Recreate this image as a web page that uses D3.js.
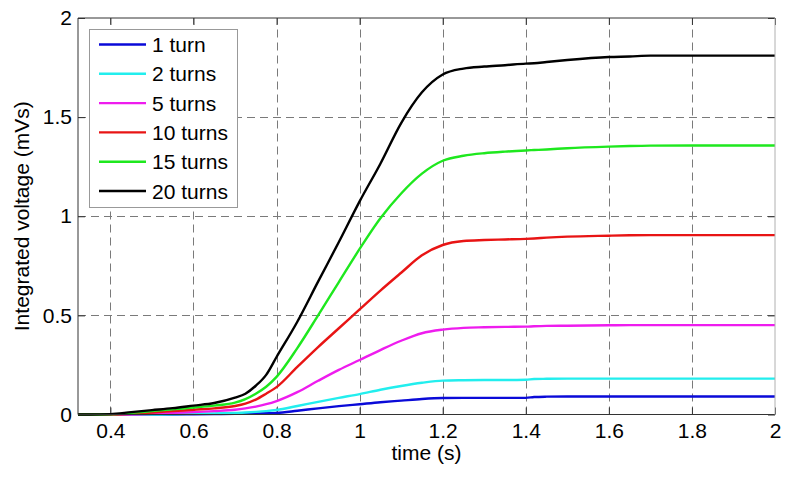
<!DOCTYPE html>
<html>

<script src="https://cdn.jsdelivr.net/npm/d3@7/dist/d3.min.js"></script>

<style>

  body, html {
    padding: 0;
    margin: 0;
    background: #fff;
  }

  svg {
    width: 792px;
    height: 478px;
    font-family: "Liberation Sans", Arial, sans-serif;
  }

  .axis path { display: none; }
  .axis line { stroke: #333; }
  .axis text { font-size: 21px; fill: #000; }

</style>

<body>
  <svg></svg>

	<script>

    // sample times (s)
    var time = [0.322, 0.35, 0.4, 0.45, 0.5, 0.55, 0.6, 0.65, 0.7, 0.725, 0.75, 0.775, 0.8,
      0.85, 0.9, 0.95, 1.0, 1.05, 1.1, 1.15, 1.2, 1.25, 1.3, 1.35, 1.4, 1.42, 1.45, 1.5,
      1.6, 1.65, 1.7, 1.8, 1.9, 2.0];

    // integrated voltage (mVs), one array per coil
    var turns1 = [0, 0, 0, 0, 0, 0, 0.001, 0.002, 0.003, 0.004, 0.005, 0.006, 0.008,
      0.019, 0.031, 0.042, 0.052, 0.062, 0.07, 0.078, 0.083, 0.084, 0.084, 0.084, 0.084, 0.088, 0.09, 0.091,
      0.091, 0.091, 0.091, 0.091, 0.091, 0.091];
    var turns2 = [0, 0, 0, 0, 0, 0.001, 0.003, 0.005, 0.008, 0.01, 0.013, 0.017, 0.023,
      0.043, 0.064, 0.084, 0.103, 0.125, 0.144, 0.16, 0.171, 0.173, 0.174, 0.174, 0.175, 0.179, 0.18, 0.181,
      0.181, 0.181, 0.181, 0.181, 0.181, 0.181];
    var turns5 = [0, 0, 0, 0, 0.003, 0.008, 0.012, 0.017, 0.024, 0.031, 0.04, 0.052, 0.068,
      0.113, 0.17, 0.225, 0.275, 0.325, 0.372, 0.41, 0.428, 0.437, 0.44, 0.442, 0.443, 0.445, 0.447, 0.448,
      0.45, 0.451, 0.451, 0.451, 0.451, 0.451];
    var turns10 = [0, 0, 0, 0.004, 0.01, 0.017, 0.024, 0.031, 0.043, 0.055, 0.075, 0.105, 0.138,
      0.24, 0.34, 0.435, 0.53, 0.625, 0.715, 0.803, 0.855, 0.875, 0.88, 0.883, 0.886, 0.888, 0.892, 0.897,
      0.902, 0.904, 0.905, 0.905, 0.905, 0.905];
    var turns15 = [0, 0, 0.001, 0.008, 0.017, 0.026, 0.035, 0.045, 0.06, 0.078, 0.105, 0.14, 0.19,
      0.335, 0.5, 0.668, 0.835, 0.99, 1.115, 1.215, 1.28, 1.305, 1.318, 1.326, 1.332, 1.334, 1.337, 1.343,
      1.351, 1.354, 1.356, 1.357, 1.357, 1.357];
    var turns20 = [0, 0, 0.002, 0.012, 0.022, 0.032, 0.045, 0.058, 0.085, 0.105, 0.145, 0.2, 0.29,
      0.468, 0.67, 0.87, 1.075, 1.265, 1.47, 1.625, 1.715, 1.745, 1.755, 1.762, 1.77, 1.772, 1.778, 1.788,
      1.803, 1.806, 1.81, 1.81, 1.81, 1.81];

    var seriesNames = ['1 turn', '2 turns', '5 turns', '10 turns', '15 turns', '20 turns'];
    var seriesValues = [turns1, turns2, turns5, turns10, turns15, turns20];
    var seriesColors = ['#0a0ad8', '#22eeee', '#ee1cee', '#e81414', '#1ee81e', '#000000'];

    var xTicks = [0.4, 0.6, 0.8, 1, 1.2, 1.4, 1.6, 1.8, 2];
    var xTickLabels = ['0.4', '0.6', '0.8', '1', '1.2', '1.4', '1.6', '1.8', '2'];
    var yTicks = [0, 0.5, 1, 1.5, 2];
    var yTickLabels = ['0', '0.5', '1', '1.5', '2'];

    // plot box (window.top is read-only, so no bare "top" here)
    var pL = 78, pR = 775, pT = 18, pB = 414.5;

    var svg = d3.select('svg');

    var x = d3.scaleLinear().domain([0.322, 2]).range([pL, pR]);
    var y = d3.scaleLinear().domain([0, 2]).range([pB, pT]);

    // dashed grid
    var grid = svg.append('g')
      .attr('stroke', '#7a7a7a')
      .attr('stroke-width', 1)
      .attr('stroke-dasharray', '8,5');

    grid.selectAll('line.v').data(xTicks.filter(function (d) { return d < 2; }))
      .enter().append('line')
        .attr('class', 'v')
        .attr('x1', function (d) { return Math.round(x(d)) + 0.5; })
        .attr('x2', function (d) { return Math.round(x(d)) + 0.5; })
        .attr('y1', pB)
        .attr('y2', pT);

    grid.selectAll('line.h').data(yTicks.filter(function (d) { return d > 0 && d < 2; }))
      .enter().append('line')
        .attr('class', 'h')
        .attr('y1', function (d) { return Math.round(y(d)) + 0.5; })
        .attr('y2', function (d) { return Math.round(y(d)) + 0.5; })
        .attr('x1', pL)
        .attr('x2', pR);

    // axes (ticks point inward, like matlab)
    svg.append('g')
      .attr('class', 'axis')
      .attr('transform', 'translate(0,' + pB + ')')
      .call(d3.axisBottom(x).tickValues(xTicks)
        .tickFormat(function (d, i) { return xTickLabels[i]; })
        .tickSize(-7).tickPadding(9));

    svg.append('g')
      .attr('class', 'axis')
      .attr('transform', 'translate(0,' + pT + ')')
      .call(d3.axisTop(x).tickValues(xTicks).tickFormat('').tickSize(-7));

    svg.append('g')
      .attr('class', 'axis')
      .attr('transform', 'translate(' + pL + ',0)')
      .call(d3.axisLeft(y).tickValues(yTicks)
        .tickFormat(function (d, i) { return yTickLabels[i]; })
        .tickSize(-7).tickPadding(6));

    svg.append('g')
      .attr('class', 'axis')
      .attr('transform', 'translate(' + pR + ',0)')
      .call(d3.axisRight(y).tickValues(yTicks).tickFormat('').tickSize(-7));

    // data lines
    var line = d3.line()
      .x(function (d, i) { return x(time[i]); })
      .y(function (d) { return y(d); })
      .curve(d3.curveMonotoneX);

    svg.append('g').selectAll('path')
      .data(seriesValues)
      .enter().append('path')
        .attr('fill', 'none')
        .attr('stroke', function (d, i) { return seriesColors[i]; })
        .attr('stroke-width', 2.4)
        .attr('stroke-linejoin', 'round')
        .attr('d', line);

    // box
    svg.append('path')
      .attr('fill', 'none')
      .attr('stroke', '#333')
      .attr('d', 'M' + pR + ',' + pT + 'H' + pL + 'V' + pB + 'H' + pR);
    svg.append('line')
      .attr('stroke', '#b0b0b0')
      .attr('x1', pR).attr('x2', pR)
      .attr('y1', pT).attr('y2', pB);

    // axis labels
    svg.append('text')
      .attr('x', (pL + pR) / 2)
      .attr('y', 460)
      .attr('text-anchor', 'middle')
      .style('font-size', '21px')
      .text('time (s)');

    svg.append('text')
      .attr('transform', 'translate(29,' + (pT + pB) / 2 + ') rotate(-90)')
      .attr('text-anchor', 'middle')
      .style('font-size', '21px')
      .text('Integrated voltage (mVs)');

    // legend
    var legend = svg.append('g');

    legend.append('rect')
      .attr('x', 89.5).attr('y', 29.5)
      .attr('width', 148).attr('height', 178)
      .attr('fill', '#fff')
      .attr('stroke', '#999');

    var entry = legend.selectAll('g.entry').data(seriesNames)
      .enter().append('g')
        .attr('class', 'entry')
        .attr('transform', function (d, i) { return 'translate(0,' + (44.5 + i * 29.3) + ')'; });

    entry.append('line')
      .attr('x1', 99).attr('x2', 146)
      .attr('stroke', function (d, i) { return seriesColors[i]; })
      .attr('stroke-width', 2.4);

    entry.append('text')
      .attr('x', 152)
      .attr('dy', '0.36em')
      .style('font-size', '21px')
      .text(function (d) { return d; });

	</script>
</body>
</html>
